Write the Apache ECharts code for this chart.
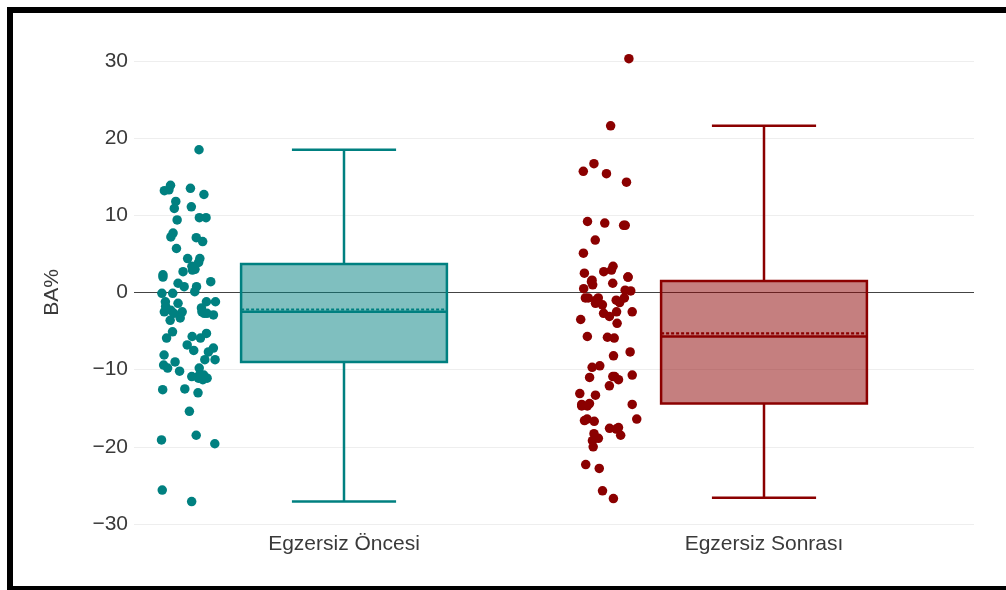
<!DOCTYPE html>
<html>
<head>
<meta charset="utf-8">
<script src="https://cdn.jsdelivr.net/npm/echarts@6/dist/echarts.min.js"></script>
<style>
  html, body { margin: 0; padding: 0; background: #fff; }
  #chart { width: 1006px; height: 590px; }
</style>
</head>
<body>
<div id="chart"></div>
<script>
// Groups shown on the horizontal axis
const categories = ['Egzersiz Öncesi', 'Egzersiz Sonrası'];

// Individual BA% measurements, before exercise
const oncesiValues = [
  18.5, 13.9, 13.5, 13.3, 13.2, 12.7, 11.8, 11.1, 10.9, 9.7, 9.7, 9.4,
  7.7, 7.2, 7.1, 6.6, 5.7, 4.4, 4.4, 3.9, 3.4, 3.0, 2.9, 2.7, 2.3, 2.0,
  1.4, 1.2, 0.75, 0.75, 0.1, -0.1, -0.1, -1.2, -1.2, -1.2, -1.4, -1.8,
  -2.0, -2.3, -2.5, -2.5, -2.5, -2.7, -2.7, -2.7, -2.9, -3.3, -3.6,
  -5.1, -5.3, -5.7, -5.9, -5.9, -6.8, -7.2, -7.5, -7.7, -8.1, -8.7, -8.7,
  -9.0, -9.4, -9.8, -9.8, -10.2, -10.7, -10.9, -10.9, -11.1, -11.1, -11.3,
  -12.5, -12.6, -13.0, -15.4, -18.5, -19.1, -19.6, -25.6, -27.1
];

// Individual BA% measurements, after exercise
const sonrasiValues = [
  30.3, 21.6, 16.7, 15.7, 15.4, 14.3, 9.2, 9.0, 8.7, 8.7, 6.8, 5.1,
  3.4, 2.9, 2.7, 2.5, 2.0, 2.0, 1.6, 1.4, 1.2, 1.0, 0.5, 0.3, 0.2,
  -0.7, -0.7, -0.7, -0.7, -1.0, -1.0, -1.3, -1.4, -1.6, -2.5, -2.5,
  -2.7, -3.1, -3.5, -4.0, -5.7, -5.8, -5.9, -7.7, -8.2, -9.5, -9.7,
  -10.7, -10.9, -10.9, -11.0, -11.3, -12.1, -13.1, -13.3, -14.4, -14.5,
  -14.5, -14.7, -14.7, -16.4, -16.4, -16.6, -16.7, -17.5, -17.6, -17.7,
  -18.3, -18.5, -18.9, -19.2, -20.0, -22.3, -22.8, -25.7, -26.7
];

// Box summaries: [lower whisker, Q1, median, Q3, upper whisker, mean]
const oncesiStats = [-27.1, -9.0, -2.5, 3.7, 18.5, -2.2];
const sonrasiStats = [-26.6, -14.4, -5.7, 1.5, 21.6, -5.3];

// Value axis ticks
const yTicks = [-30, -20, -10, 0, 10, 20, 30];

const lineColors = ['#008080', '#8b0000'];
const fillColors = ['rgba(0,128,128,0.5)', 'rgba(139,0,0,0.5)'];
const FONT = '"Liberation Sans", Arial, sans-serif';
const TEXT_COLOR = '#3a3a3a';

// Horizontal placement inside each category band (in band units)
const POINT_POS = -0.37;
const JITTER = 0.07;
const BOX_HALF = 0.245;
const CAP_HALF = 0.124;

// Small deterministic generator for the horizontal spread of the dots
function mulberry32(a) {
  return function () {
    a |= 0; a = (a + 0x6D2B79F5) | 0;
    let t = Math.imul(a ^ (a >>> 15), 1 | a);
    t = (t + Math.imul(t ^ (t >>> 7), 61 | t)) ^ t;
    return ((t ^ (t >>> 14)) >>> 0) / 4294967296;
  };
}

function pointsFor(values, catIndex, seed) {
  const rand = mulberry32(seed);
  return values.map(v => [catIndex + POINT_POS + (rand() * 2 - 1) * JITTER, v]);
}

const groups = [
  { values: oncesiValues, stats: oncesiStats },
  { values: sonrasiValues, stats: sonrasiStats }
];

const scatterSeries = groups.map((g, i) => ({
  type: 'scatter',
  xAxisIndex: 1,
  yAxisIndex: 0,
  data: pointsFor(g.values, i, 17 + i * 31),
  symbolSize: 9.5,
  clip: false,
  itemStyle: { color: lineColors[i], opacity: 1 },
  emphasis: { disabled: true },
  z: 4
}));

// Zero reference line across the plot
scatterSeries[0].markLine = {
  silent: true,
  symbol: ['none', 'none'],
  label: { show: false },
  lineStyle: { color: '#444', width: 1, type: 'solid' },
  data: [{ yAxis: 0 }],
  z: 1
};

const boxSeries = {
  type: 'custom',
  xAxisIndex: 1,
  yAxisIndex: 0,
  clip: false,
  data: groups.map((g, i) => [i].concat(g.stats)),
  encode: { x: 0, y: [1, 2, 3, 4, 5, 6] },
  renderItem: function (params, api) {
    const c = api.value(0);
    const mn = api.value(1), q1 = api.value(2), md = api.value(3);
    const q3 = api.value(4), mx = api.value(5), mean = api.value(6);
    const col = lineColors[params.dataIndex];
    const fill = fillColors[params.dataIndex];
    const hb = api.size([BOX_HALF, 0])[0];
    const hc = api.size([CAP_HALF, 0])[0];
    const cx = api.coord([c, 0])[0];
    const y = v => api.coord([c, v])[1];
    const lw = 2.5;
    const line = (x1, y1, x2, y2, extra) => ({
      type: 'line',
      shape: { x1, y1, x2, y2 },
      style: Object.assign({ stroke: col, lineWidth: lw, fill: null }, extra || {})
    });
    return {
      type: 'group',
      children: [
        {
          type: 'rect',
          shape: { x: cx - hb, y: y(q3), width: hb * 2, height: y(q1) - y(q3) },
          style: { fill: fill, stroke: col, lineWidth: lw }
        },
        line(cx, y(q3), cx, y(mx)),
        line(cx, y(q1), cx, y(mn)),
        line(cx - hc, y(mx), cx + hc, y(mx)),
        line(cx - hc, y(mn), cx + hc, y(mn)),
        line(cx - hb, y(md), cx + hb, y(md)),
        line(cx - hb, y(mean), cx + hb, y(mean), { lineWidth: 2.2, lineDash: [3, 2] })
      ]
    };
  },
  z: 3
};

const chart = echarts.init(document.getElementById('chart'), null, { renderer: 'canvas' });

chart.setOption({
  backgroundColor: '#fff',
  animation: false,
  grid: { left: 134, right: 32, top: 61, bottom: 66, containLabel: false },
  xAxis: [
    {
      type: 'category',
      data: categories,
      boundaryGap: true,
      axisLine: { show: false },
      axisTick: { show: false },
      splitLine: { show: false },
      axisLabel: { fontSize: 21, color: TEXT_COLOR, fontFamily: FONT, margin: 10 }
    },
    {
      type: 'value',
      min: -0.5,
      max: 1.5,
      show: false
    }
  ],
  yAxis: {
    type: 'value',
    min: yTicks[0],
    max: yTicks[yTicks.length - 1],
    interval: 10,
    name: 'BA%',
    nameLocation: 'middle',
    nameGap: 71,
    nameTextStyle: { fontSize: 21, color: TEXT_COLOR, fontFamily: FONT },
    axisLine: { show: false },
    axisTick: { show: false },
    axisLabel: {
      fontSize: 21,
      color: TEXT_COLOR,
      fontFamily: FONT,
      margin: 6,
      formatter: v => String(v).replace('-', '\u2212')
    },
    splitLine: { show: true, lineStyle: { color: '#eee', width: 1 } }
  },
  series: [boxSeries].concat(scatterSeries),
  graphic: [
    {
      type: 'rect',
      shape: { x: 10, y: 10, width: 1006, height: 579 },
      style: { fill: 'none', stroke: '#000', lineWidth: 6 },
      silent: true,
      z: 100
    }
  ]
});
</script>
</body>
</html>
